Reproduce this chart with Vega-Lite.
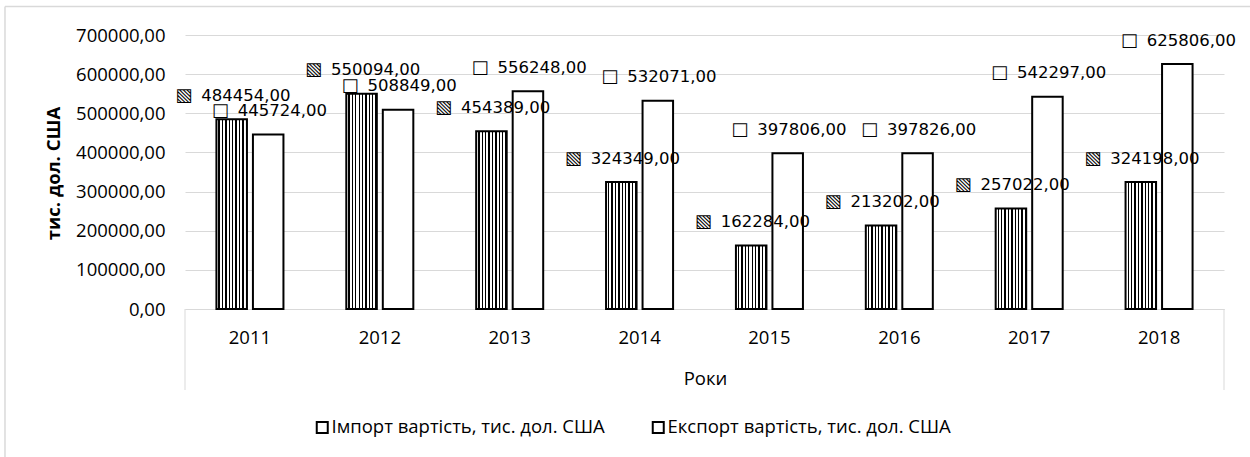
{
  "$schema": "https://vega.github.io/schema/vega-lite/v6.json",
  "width": 1039,
  "height": 274,
  "autosize": {"type": "none"},
  "padding": {"left": 185, "top": 35, "right": 26, "bottom": 148},
  "background": "white",
  "config": {
    "view": {"stroke": null},
    "font": "Open Sans",
    "locale": {"number": {"decimal": ",", "thousands": "", "grouping": [3], "currency": ["", ""]}},
    "axisX": {
      "titleFont": "Open Sans",
      "titleFontSize": 18.5,
      "titleFontWeight": "normal",
      "titleColor": "black",
      "titleX": 520,
      "titleY": 69,
      "titleAlign": "center",
      "titleBaseline": "middle",
      "labelAngle": 0,
      "labelFont": "Open Sans",
      "labelFontSize": 18.5,
      "labelColor": "black",
      "labelBaseline": "middle",
      "labelPadding": 28,
      "domainColor": "#d9d9d9",
      "domainWidth": 1,
      "ticks": false,
      "grid": false
    },
    "axisY": {
      "grid": true,
      "gridColor": "#d9d9d9",
      "gridWidth": 1,
      "domain": false,
      "ticks": false,
      "labelFont": "Open Sans",
      "labelFontSize": 18.5,
      "labelColor": "black",
      "labelPadding": 20,
      "labelOverlap": false,
      "titleFont": "Open Sans",
      "titleFontSize": 18.5,
      "titleFontWeight": "bold",
      "titleColor": "black",
      "titleX": -132,
      "titleY": 138,
      "titleAngle": -90,
      "titleAlign": "center",
      "titleBaseline": "middle"
    }
  },
  "datasets": {
    "trade": [
      {"year": "2011", "series": "Імпорт вартість, тис. дол. США", "value": 484454},
      {"year": "2011", "series": "Експорт вартість, тис. дол. США", "value": 445724},
      {"year": "2012", "series": "Імпорт вартість, тис. дол. США", "value": 550094},
      {"year": "2012", "series": "Експорт вартість, тис. дол. США", "value": 508849},
      {"year": "2013", "series": "Імпорт вартість, тис. дол. США", "value": 454389},
      {"year": "2013", "series": "Експорт вартість, тис. дол. США", "value": 556248},
      {"year": "2014", "series": "Імпорт вартість, тис. дол. США", "value": 324349},
      {"year": "2014", "series": "Експорт вартість, тис. дол. США", "value": 532071},
      {"year": "2015", "series": "Імпорт вартість, тис. дол. США", "value": 162284},
      {"year": "2015", "series": "Експорт вартість, тис. дол. США", "value": 397806},
      {"year": "2016", "series": "Імпорт вартість, тис. дол. США", "value": 213202},
      {"year": "2016", "series": "Експорт вартість, тис. дол. США", "value": 397826},
      {"year": "2017", "series": "Імпорт вартість, тис. дол. США", "value": 257022},
      {"year": "2017", "series": "Експорт вартість, тис. дол. США", "value": 542297},
      {"year": "2018", "series": "Імпорт вартість, тис. дол. США", "value": 324198},
      {"year": "2018", "series": "Експорт вартість, тис. дол. США", "value": 625806}
    ],
    "one": [{}]
  },
  "layer": [
    {
      "data": {"name": "trade"},
      "mark": {"type": "bar", "strokeWidth": 2},
      "encoding": {
        "x": {
          "field": "year",
          "type": "nominal",
          "scale": {"paddingInner": 0, "paddingOuter": 0},
          "axis": {"title": "Роки"}
        },
        "xOffset": {
          "field": "series",
          "type": "nominal",
          "sort": ["Імпорт вартість, тис. дол. США", "Експорт вартість, тис. дол. США"],
          "scale": {"paddingInner": 0.164, "paddingOuter": 0.861}
        },
        "y": {
          "field": "value",
          "type": "quantitative",
          "scale": {"domain": [0, 700000]},
          "axis": {"values": [0, 100000, 200000, 300000, 400000, 500000, 600000, 700000], "format": ".2f", "title": "тис. дол. США"}
        },
        "stroke": {
          "field": "series",
          "type": "nominal",
          "scale": {"domain": ["Імпорт вартість, тис. дол. США", "Експорт вартість, тис. дол. США"], "range": ["black", "black"]},
          "legend": {
            "orient": "none",
            "legendX": 128,
            "legendY": 383,
            "direction": "horizontal",
            "title": null,
            "symbolType": "square",
            "symbolSize": 121,
            "symbolStrokeWidth": 2,
            "symbolStrokeColor": "black",
            "labelFont": "Open Sans",
            "labelFontSize": 18.5,
            "labelColor": "black",
            "labelOffset": 0,
            "columnPadding": 43,
            "labelLimit": 400,
            "encode": {
              "symbols": {
                "fill": [
                  {"test": "datum.value === 'Імпорт вартість, тис. дол. США'", "value": {"gradient": "linear", "x1": 0, "y1": 0, "x2": 1, "y2": 0, "stops": [
                    {"offset": 0, "color": "#fff"}, {"offset": 0.2, "color": "#fff"}, {"offset": 0.2, "color": "#000"}, {"offset": 0.33, "color": "#000"},
                    {"offset": 0.33, "color": "#fff"}, {"offset": 0.53, "color": "#fff"}, {"offset": 0.53, "color": "#000"}, {"offset": 0.66, "color": "#000"},
                    {"offset": 0.66, "color": "#fff"}, {"offset": 0.86, "color": "#fff"}, {"offset": 0.86, "color": "#000"}, {"offset": 1, "color": "#000"}
                  ]}},
                  {"value": "white"}
                ],
                "stroke": {"value": "black"},
                "strokeWidth": {"value": 2}
              }
            }
          }
        },
        "fill": {
          "condition": {
            "test": "datum.series === 'Імпорт вартість, тис. дол. США'",
            "value": {"gradient": "linear", "x1": 0, "y1": 0, "x2": 1, "y2": 0, "stops": [
              {"offset": 0, "color": "#fff"}, {"offset": 0.0667, "color": "#fff"}, {"offset": 0.0667, "color": "#000"}, {"offset": 0.1111, "color": "#000"},
              {"offset": 0.1111, "color": "#fff"}, {"offset": 0.1778, "color": "#fff"}, {"offset": 0.1778, "color": "#000"}, {"offset": 0.2222, "color": "#000"},
              {"offset": 0.2222, "color": "#fff"}, {"offset": 0.2889, "color": "#fff"}, {"offset": 0.2889, "color": "#000"}, {"offset": 0.3333, "color": "#000"},
              {"offset": 0.3333, "color": "#fff"}, {"offset": 0.4, "color": "#fff"}, {"offset": 0.4, "color": "#000"}, {"offset": 0.4444, "color": "#000"},
              {"offset": 0.4444, "color": "#fff"}, {"offset": 0.5111, "color": "#fff"}, {"offset": 0.5111, "color": "#000"}, {"offset": 0.5556, "color": "#000"},
              {"offset": 0.5556, "color": "#fff"}, {"offset": 0.6222, "color": "#fff"}, {"offset": 0.6222, "color": "#000"}, {"offset": 0.6667, "color": "#000"},
              {"offset": 0.6667, "color": "#fff"}, {"offset": 0.7333, "color": "#fff"}, {"offset": 0.7333, "color": "#000"}, {"offset": 0.7778, "color": "#000"},
              {"offset": 0.7778, "color": "#fff"}, {"offset": 0.8444, "color": "#fff"}, {"offset": 0.8444, "color": "#000"}, {"offset": 0.8889, "color": "#000"},
              {"offset": 0.8889, "color": "#fff"}, {"offset": 0.9556, "color": "#fff"}, {"offset": 0.9556, "color": "#000"}, {"offset": 1, "color": "#000"}
            ]}
          },
          "value": "white"
        }
      }
    },
    {
      "data": {"name": "trade"},
      "mark": {"type": "text", "font": "DejaVu Sans", "fontSize": 18, "align": "center", "baseline": "middle", "dx": -48, "dy": -23.5, "color": "black"},
      "encoding": {
        "x": {"field": "year", "type": "nominal", "axis": {"title": "Роки"}},
        "xOffset": {"field": "series", "type": "nominal", "sort": ["Імпорт вартість, тис. дол. США", "Експорт вартість, тис. дол. США"]},
        "y": {"field": "value", "type": "quantitative", "axis": {"values": [0, 100000, 200000, 300000, 400000, 500000, 600000, 700000], "format": ".2f", "title": "тис. дол. США"}},
        "text": {"condition": {"test": "datum.series === 'Імпорт вартість, тис. дол. США'", "value": "▧"}, "value": "□"}
      }
    },
    {
      "data": {"name": "trade"},
      "mark": {"type": "text", "font": "DejaVu Sans", "fontSize": 16.5, "align": "left", "baseline": "middle", "dx": -30.5, "dy": -23.5, "color": "black"},
      "encoding": {
        "x": {"field": "year", "type": "nominal", "axis": {"title": "Роки"}},
        "xOffset": {"field": "series", "type": "nominal", "sort": ["Імпорт вартість, тис. дол. США", "Експорт вартість, тис. дол. США"]},
        "y": {"field": "value", "type": "quantitative", "axis": {"values": [0, 100000, 200000, 300000, 400000, 500000, 600000, 700000], "format": ".2f", "title": "тис. дол. США"}},
        "text": {"field": "value", "type": "quantitative", "format": ".2f"}
      }
    },
    {
      "data": {"name": "one"},
      "mark": {"type": "rule", "color": "#d9d9d9", "strokeWidth": 1},
      "encoding": {
        "x": {"datum": "2011", "bandPosition": 0, "axis": {"title": "Роки"}},
        "y": {"datum": 0, "axis": {"values": [0, 100000, 200000, 300000, 400000, 500000, 600000, 700000], "format": ".2f", "title": "тис. дол. США"}},
        "y2": {"datum": -207000}
      }
    },
    {
      "data": {"name": "one"},
      "mark": {"type": "rule", "color": "#d9d9d9", "strokeWidth": 1},
      "encoding": {
        "x": {"datum": "2018", "bandPosition": 1, "axis": {"title": "Роки"}},
        "y": {"datum": 0, "axis": {"values": [0, 100000, 200000, 300000, 400000, 500000, 600000, 700000], "format": ".2f", "title": "тис. дол. США"}},
        "y2": {"datum": -207000}
      }
    },
    {
      "data": {"name": "one"},
      "mark": {"type": "rule", "color": "#d9d9d9", "strokeWidth": 1.5},
      "encoding": {
        "x": {"datum": "2011", "bandPosition": -1.386, "axis": {"title": "Роки"}},
        "y": {"datum": 773000, "axis": {"values": [0, 100000, 200000, 300000, 400000, 500000, 600000, 700000], "format": ".2f", "title": "тис. дол. США"}},
        "y2": {"datum": -600000}
      }
    },
    {
      "data": {"name": "one"},
      "mark": {"type": "rule", "color": "#d9d9d9", "strokeWidth": 1.5},
      "encoding": {
        "x": {"datum": "2011", "bandPosition": -1.386, "axis": {"title": "Роки"}},
        "x2": {"datum": "2018", "bandPosition": 2},
        "y": {"datum": 773000, "axis": {"values": [0, 100000, 200000, 300000, 400000, 500000, 600000, 700000], "format": ".2f", "title": "тис. дол. США"}}
      }
    }
  ]
}
